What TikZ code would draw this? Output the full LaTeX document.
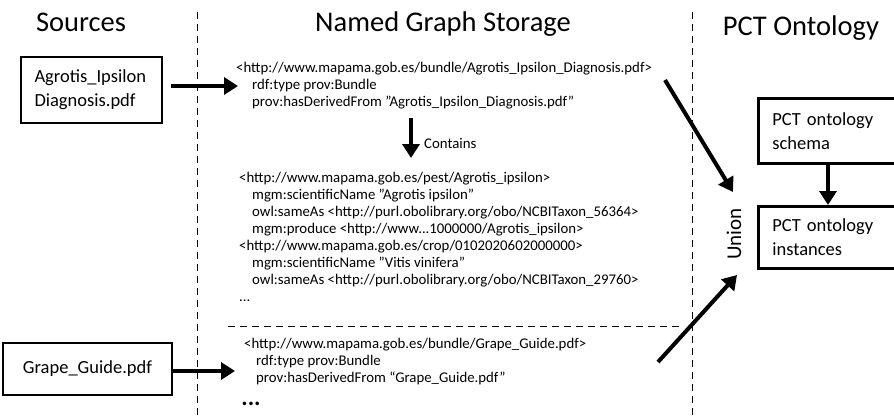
\documentclass[tikz,border=0pt]{standalone}
\usepackage{fontspec}
\setmainfont{Carlito}
\usetikzlibrary{arrows.meta}
\newcommand{\sq}{\char"22\relax}
\begin{document}
\begin{tikzpicture}[x=1pt,y=-1pt,
  title/.style={font=\fontsize{28.5}{30}\selectfont, inner sep=0pt, anchor=base},
  srcbox/.style={draw, line width=2.6pt, align=left, font=\fontsize{18.5}{24}\selectfont, inner sep=0pt},
  rdf/.style={align=left, anchor=north west, font=\fontsize{14.8}{17}\selectfont, inner sep=0pt},
  bigarrow/.style={line width=4pt, -{Triangle[length=14pt,width=17pt]}},
  divider/.style={dashed, line width=0.9pt, dash pattern=on 7pt off 5pt}]
\useasboundingbox (0,0) rectangle (894,416);
\clip (0,0) rectangle (894,416);
% titles
\node[title] (tsrc) at (81,31) {Sources};
\node[title] (tngs) at (443,31) {Named Graph Storage};
\node[title] (tpct) at (801,35) {PCT Ontology};
% dividers
\coordinate (d1t) at (197,12); \coordinate (d1b) at (197,416);
\coordinate (d2t) at (692,12); \coordinate (d2b) at (692,416);
\draw[divider] (d1t) -- (d1b);
\draw[divider] (d2t) -- (d2b);
\coordinate (hl) at (228,326); \coordinate (hr) at (680,326);
\draw[divider] (hl) -- (hr);
% source boxes
\node[srcbox, minimum width=141pt, minimum height=66pt, text width=114pt] (agro) at (91.5,90) {Agrotis\_Ipsilon\\Diagnosis.pdf};
\node[srcbox, minimum width=169pt, minimum height=52pt, align=center] (grape) at (87.5,369) {Grape\_Guide.pdf};
% rdf blocks
\node[rdf] (b1) at (236,62) {<http://www.mapama.gob.es/bundle/Agrotis\_Ipsilon\_Diagnosis.pdf>\\
\hspace*{16pt}rdf:type prov:Bundle\\
\hspace*{16pt}prov:hasDerivedFrom \sq Agrotis\_Ipsilon\_Diagnosis.pdf\sq};
\node[rdf] (b2) at (239,172) {<http://www.mapama.gob.es/pest/Agrotis\_ipsilon>\\
\hspace*{13pt}mgm:scientificName \sq Agrotis ipsilon\sq\\
\hspace*{13pt}owl:sameAs <http://purl.obolibrary.org/obo/NCBITaxon\_56364>\\
\hspace*{13pt}mgm:produce <http://www...1000000/Agrotis\_ipsilon>\\
<http://www.mapama.gob.es/crop/0102020602000000>\\
\hspace*{13pt}mgm:scientificName \sq Vitis vinifera\sq\\
\hspace*{13pt}owl:sameAs <http://purl.obolibrary.org/obo/NCBITaxon\_29760>\\
...};
\node[rdf] (b3) at (244,338) {<http://www.mapama.gob.es/bundle/Grape\_Guide.pdf>\\
\hspace*{12pt}rdf:type prov:Bundle\\
\hspace*{12pt}prov:hasDerivedFrom “Grape\_Guide.pdf\sq};
\node[inner sep=0pt, font=\fontsize{24}{24}\selectfont\bfseries] (dots) at (251,404) {...};
% contains
\coordinate (ct) at (411,118); \coordinate (cb) at (411,158);
\draw[bigarrow] (ct) -- (cb);
\node[anchor=west, inner sep=0pt, font=\fontsize{14.8}{17}\selectfont] (clab) at (424,143) {Contains};
% source arrows
\coordinate (a1e) at (238,86);
\draw[bigarrow] (agro.east |- a1e) ++(8,0) -- (a1e);
\coordinate (a2e) at (235,371);
\draw[bigarrow] (grape.east |- a2e) -- (a2e);
% union
\node[rotate=90, inner sep=0pt, font=\fontsize{21}{21}\selectfont] (union) at (734,234) {Union};
\coordinate (u1s) at (665,80); \coordinate (u1e) at (733,192);
\coordinate (u2s) at (658,362); \coordinate (u2e) at (737,275);
\draw[bigarrow] (u1s) -- (u1e);
\draw[bigarrow] (u2s) -- (u2e);
% PCT boxes
\node[srcbox, anchor=north west, minimum width=160pt, minimum height=65pt, text width=140pt, inner xsep=14pt] (schema) at (757,97) {PCT ontology\\schema};
\node[srcbox, anchor=north west, minimum width=160pt, minimum height=62pt, text width=140pt, inner xsep=14pt] (inst) at (757,205) {PCT ontology\\instances};
\draw[bigarrow] (schema.south -| 828,0) -- (inst.north -| 828,0);
\end{tikzpicture}
\end{document}
